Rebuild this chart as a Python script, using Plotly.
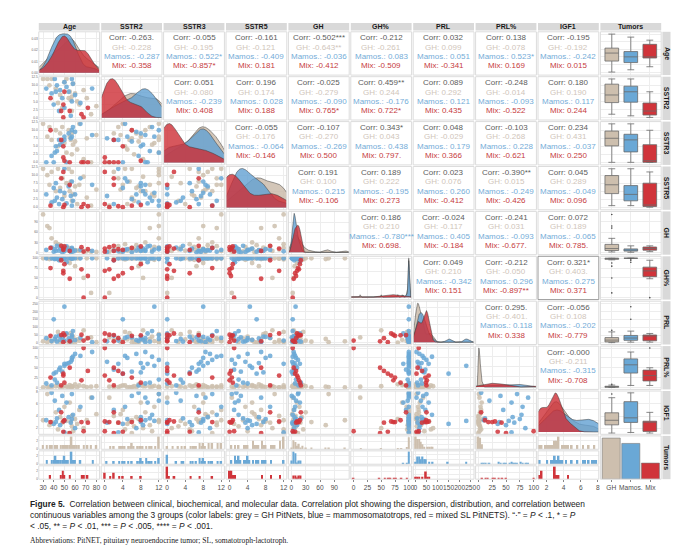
import numpy as np
import plotly.graph_objects as go

W, H = 680, 546

# ------------------------------------------------------------------ data
groups = ["GH", "Mamos.", "Mix"]
variables = ["Age", "SSTR2", "SSTR3", "SSTR5", "GH", "GH%", "PRL", "PRL%", "IGF1"]
strip_labels = variables + ["Tumors"]

age_gh = [30, 34, 36, 38, 42, 44, 46, 48, 50, 52, 54, 55, 56, 57, 57, 58, 60, 62, 64, 68, 71, 75, 80]
sstr2_gh = [12, 12, 10, 12, 9, 4.5, 7, 3, 11, 12, 6, 8, 5.5, 6.5, 2, 10.5, 7.5, 5, 4, 8.5, 6, 1, 3.5]
sstr3_gh = [12, 8, 11, 7, 10, 5, 9, 11, 6, 3, 10, 8, 7, 2.5, 9, 5.5, 6.5, 4, 12, 1, 7.5, 0, 8.5]
sstr5_gh = [12, 10, 7, 11, 5, 12, 6, 9, 3.5, 7.5, 12, 5, 8, 2, 11, 4, 6.5, 1, 7, 9.5, 3, 0.5, 5.5]
gh_gh = [112, 78, 72, 42, 30, 25, 22, 19, 17, 15, 14, 12, 11, 10, 9, 8, 7, 6, 5, 5, 4, 3, 2]
ghp_gh = [100, 100, 98, 100, 100, 97, 100, 100, 96, 100, 100, 88, 100, 100, 99, 100, 80, 100, 100, 50, 100, 12, 100]
prl_gh = [10, 5, 25, 8, 15, 70, 4, 30, 12, 55, 3, 20, 62, 6, 18, 40, 2, 22, 14, 80, 28, 35, 5]
prlp_gh = [0, 1, 2, 0, 3, 5, 0, 1, 4, 2, 0, 6, 1, 3, 0, 2, 8, 0, 5, 3, 1, 2, 3]
igf1_gh = [3.3, 7.6, 2.5, 3.0, 4.6, 1.8, 3.8, 2.9, 5.5, 3.2, 1.2, 6.2, 3.1, 2.3, 4.0, 1.5, 3.5, 2.7, 5.0, 2.0, 3.3, 7.0, 4.3]

age_mamos = [33, 38, 40, 41, 42, 43, 45, 46, 48, 50, 50, 52, 54, 56, 57, 57, 58, 60, 65, 76]
sstr2_mamos = [9, 7.5, 4, 12, 8, 10, 2, 8.5, 6, 11, 3, 9.5, 8, 0.5, 12, 5, 10.5, 7, 4.5, 9]
sstr3_mamos = [0, 2, 0, 3, 5, 3.5, 7, 5.5, 6.5, 8, 7, 0, 9, 7.5, 10, 8, 11, 9.5, 12, 8.5]
sstr5_mamos = [4, 1.5, 6, 2, 7.5, 3, 1, 5, 2.5, 4.5, 12, 1.2, 6.5, 3.5, 0.5, 8, 2, 4, 9, 7]
gh_mamos = [8, 15, 3, 10, 5, 20, 6, 12, 1, 9, 4, 18, 7, 2, 14, 10, 3, 6, 8, 5]
ghp_mamos = [100, 100, 100, 98, 100, 100, 95, 100, 100, 100, 100, 90, 100, 100, 100, 100, 100, 100, 100, 100]
prl_mamos = [30, 12, 150, 25, 40, 8, 45, 20, 35, 230, 15, 60, 28, 10, 50, 38, 75, 18, 32, 5]
prlp_mamos = [10, 5, 35, 20, 38, 12, 45, 50, 40, 55, 60, 60, 62, 65, 70, 75, 78, 85, 80, 90]
igf1_mamos = [3.3, 7.8, 2.7, 6.5, 3.0, 3.6, 5.0, 2.5, 7.3, 3.2, 1.3, 6.2, 3.8, 2.9, 7.6, 3.5, 4.2, 2.0, 5.5, 7.0]

age_mix = [37, 47, 49, 49, 50, 55, 66, 68, 72]
sstr2_mix = [6, 2, 4, 0, 8, 2, 1, 0, 3]
sstr3_mix = [10, 7, 5, 1.5, 0.5, 0, 0, 0, 0]
sstr5_mix = [0.5, 9, 0, 11, 0.7, 7, 0, 1, 0.3]
gh_mix = [14, 20, 8, 12, 18, 5, 16, 3, 10]
ghp_mix = [75, 95, 62, 68, 85, 48, 72, 0, 55]
prl_mix = [45, 50, 5, 60, 48, 10, 52, 15, 30]
prlp_mix = [25, 5, 35, 30, 12, 50, 18, 100, 42]
igf1_mix = [3.0, 4.6, 1.4, 3.1, 3.3, 1.2, 3.0, 1.5, 2.9]

# correlation labels (upper triangle, row-major)
corr_all = ["-0.263.", "-0.055", "-0.161", "-0.502***", "-0.212", "0.032", "0.138", "-0.195",
            "0.051", "0.196", "-0.025", "0.459**", "0.089", "-0.248", "0.180",
            "-0.055", "-0.107", "0.343*", "0.048", "-0.103", "0.234",
            "0.191", "0.189", "0.023", "-0.390**", "0.045",
            "0.186", "-0.024", "-0.241", "0.072",
            "0.049", "-0.212", "0.321*",
            "0.295.", "-0.056",
            "-0.000"]
corr_gh = ["-0.228", "-0.195", "-0.121", "-0.643**", "-0.261", "0.099", "-0.078", "-0.192",
           "-0.080", "0.174", "-0.279", "0.244", "0.292", "-0.014", "0.190",
           "-0.176", "-0.270", "0.043", "-0.029", "-0.268", "0.431",
           "0.100", "0.222", "0.076", "0.015", "0.289",
           "0.210", "-0.117", "0.031", "0.189",
           "0.210", "-0.050", "0.403.",
           "-0.401.", "0.108",
           "-0.211"]
corr_mamos = ["-0.287", "0.522*", "-0.409", "-0.036", "0.083", "0.051", "0.523*", "-0.242",
              "-0.239", "0.028", "-0.090", "-0.176", "0.121", "-0.093", "0.117",
              "-0.064", "-0.269", "0.438", "0.179", "0.228", "-0.037",
              "0.215", "-0.195", "0.260", "-0.249", "-0.049",
              "-0.780***", "0.405", "-0.093", "-0.065",
              "-0.342", "0.296", "0.275",
              "0.118", "-0.202",
              "-0.315"]
corr_mix = ["-0.358", "-0.857*", "0.181", "-0.412", "-0.509", "-0.341", "0.169", "0.015",
            "0.408", "0.188", "0.765*", "0.722*", "0.435", "-0.522", "0.244",
            "-0.146", "0.500", "0.797.", "0.366", "-0.621", "0.250",
            "-0.106", "0.273", "-0.412", "-0.426", "0.096",
            "0.698.", "-0.184", "-0.677.", "0.785.",
            "0.151", "-0.897**", "0.371",
            "0.338", "-0.779",
            "-0.708"]

age_ticks = [30, 40, 50, 60, 70, 80]
sstr_xticks = [0, 4, 8, 12]
sstr_yticks = [0, 2.5, 5, 7.5, 10, 12.5]
gh_ticks = [0, 30, 60, 90]
pct_ticks = [0, 25, 50, 75, 100]
prl_ticks = [0, 50, 100, 150, 200, 250]
igf1_ticks = [2, 4, 6, 8]
age_density_ticks = [0, 0.01, 0.02, 0.03, 0.04]

caption_lines = [
    "<b>Figure 5.</b>  Correlation between clinical, biochemical, and molecular data. Correlation plot showing the dispersion, distribution, and correlation between",
    "continuous variables among the 3 groups (color labels: grey = GH PitNets, blue = mammosomatotrops, red = mixed SL PitNETS). \u201c\u00b7\u201d = <i>P</i> < .1, * = <i>P</i>",
    "< .05, ** = <i>P</i> < .01, *** = <i>P</i> < .005, **** = <i>P</i> < .001.",
]
abbrev_line = "Abbreviations: PitNET, pituitary neuroendocrine tumor; SL, somatotroph-lactotroph."

# ------------------------------------------------------------------ assemble
values = {
    "Age": [age_gh, age_mamos, age_mix],
    "SSTR2": [sstr2_gh, sstr2_mamos, sstr2_mix],
    "SSTR3": [sstr3_gh, sstr3_mamos, sstr3_mix],
    "SSTR5": [sstr5_gh, sstr5_mamos, sstr5_mix],
    "GH": [gh_gh, gh_mamos, gh_mix],
    "GH%": [ghp_gh, ghp_mamos, ghp_mix],
    "PRL": [prl_gh, prl_mamos, prl_mix],
    "PRL%": [prlp_gh, prlp_mamos, prlp_mix],
    "IGF1": [igf1_gh, igf1_mamos, igf1_mix],
}
ranges = {"Age": [26, 83], "SSTR2": [-0.8, 12.7], "SSTR3": [-0.8, 12.7], "SSTR5": [-0.8, 12.7],
          "GH": [-6, 121], "GH%": [-5, 105], "PRL": [-10, 265], "PRL%": [-5, 105], "IGF1": [1.0, 8.1]}
xticks = {"Age": age_ticks, "SSTR2": sstr_xticks, "SSTR3": sstr_xticks, "SSTR5": sstr_xticks,
          "GH": gh_ticks, "GH%": pct_ticks, "PRL": prl_ticks, "PRL%": pct_ticks, "IGF1": igf1_ticks}
yticks = dict(xticks, SSTR2=sstr_yticks, SSTR3=sstr_yticks, SSTR5=sstr_yticks)
ytext = {k: [("%.1f" % v) if k.startswith("SSTR") else str(v) for v in yticks[k]] for k in yticks}

colors = ["#CDBFAE", "#6AA8D6", "#D0343A"]
fills = ["rgba(200,184,166,0.80)", "rgba(98,160,210,0.80)", "rgba(205,45,52,0.80)"]
txt_cols = ["#D0C5BA", "#74ACD8", "#C63C41"]
GRID = "#EDEDED"
FRAME = "#DCDCDC"
TICKF = dict(family="Liberation Sans, Arial, sans-serif", size=6.6, color="#4D4D4D")
SMALLF = dict(family="Liberation Sans, Arial, sans-serif", size=3.2, color="#666666")

X0, PX = 30.0, 62.4
Y0, PY = 23.0, 44.9
G = 1.6


def fx(x):
    return x / W


def fy(y):
    return 1 - y / H


def col_px(j):
    return X0 + j * PX + G / 2, X0 + (j + 1) * PX - G / 2


def row_px(i):
    return Y0 + i * PY + G / 2, Y0 + (i + 1) * PY - G / 2


fig = go.Figure()
axes = {}
shapes = []
annots = []
cnt = [0]


def add_axes(xpx, ypx, xa_extra, ya_extra):
    cnt[0] += 1
    s = "" if cnt[0] == 1 else str(cnt[0])
    base = dict(showgrid=True, gridcolor=GRID, gridwidth=0.6, zeroline=False, showline=False,
                ticks="", showticklabels=False, fixedrange=True, automargin=False, tickangle=0)
    xa = dict(base, domain=[fx(xpx[0]), fx(xpx[1])], anchor="y" + s)
    xa.update(xa_extra)
    ya = dict(base, domain=[fy(ypx[1]), fy(ypx[0])], anchor="x" + s)
    ya.update(ya_extra)
    axes["xaxis" + s] = xa
    axes["yaxis" + s] = ya
    shapes.append(dict(type="rect", xref="paper", yref="paper", x0=fx(xpx[0]), x1=fx(xpx[1]),
                       y0=fy(ypx[1]), y1=fy(ypx[0]), line=dict(color=FRAME, width=1), layer="above"))
    return "x" + s, "y" + s


def kde(vals, grid):
    v = np.asarray(vals, float)
    n = len(v)
    sd = v.std(ddof=1)
    q75, q25 = np.percentile(v, [75, 25])
    lo = min(sd, (q75 - q25) / 1.34) if (q75 - q25) > 0 else sd
    bw = 0.9 * lo * n ** -0.2
    d = np.exp(-0.5 * ((grid[:, None] - v[None, :]) / bw) ** 2).sum(1) / (n * bw * np.sqrt(2 * np.pi))
    return d


pair_idx = 0
for i, vi in enumerate(strip_labels):
    for j, vj in enumerate(strip_labels):
        xpx, ypx = col_px(j), row_px(i)
        if i < j and j < 9:
            # correlation text panel
            shapes.append(dict(type="rect", xref="paper", yref="paper", x0=fx(xpx[0]), x1=fx(xpx[1]),
                               y0=fy(ypx[1]), y1=fy(ypx[0]),
                               line=dict(color="#9A9A9A" if (i, j) == (5, 8) else FRAME, width=1),
                               fillcolor="white", layer="above"))
            lines = ["Corr: " + corr_all[pair_idx], "GH: " + corr_gh[pair_idx],
                     "Mamos.: " + corr_mamos[pair_idx], "Mix: " + corr_mix[pair_idx]]
            cols = ["#5C5C5C"] + txt_cols
            xc = (xpx[0] + xpx[1]) / 2
            for k, (t, c) in enumerate(zip(lines, cols)):
                annots.append(dict(x=fx(xc), y=fy(Y0 + i * PY + [6.7, 16.1, 25.5, 34.9][k]),
                                   xref="paper", yref="paper", text=t, showarrow=False,
                                   font=dict(family="Liberation Sans, Arial, sans-serif", size=8, color=c),
                                   xanchor="center", yanchor="middle"))
            pair_idx += 1
        elif i == j and i < 9:
            grid = np.linspace(ranges[vi][0], ranges[vi][1], 300)
            dens = [kde(values[vi][g], grid) for g in range(3)]
            top = max(d.max() for d in dens)
            ya = dict(range=[-0.06 * top, top * 1.05])
            if j == 0:
                ya.update(tickvals=age_density_ticks, ticktext=["%.2f" % t for t in age_density_ticks],
                          showticklabels=True, tickfont=SMALLF)
            xa_id, ya_id = add_axes(xpx, ypx, dict(range=ranges[vi], tickvals=xticks[vi]), ya)
            for g in range(3):
                fig.add_trace(go.Scatter(x=grid, y=dens[g], mode="lines", fill="tozeroy",
                                         fillcolor=fills[g], line=dict(color="#3A3A3A", width=0.5),
                                         xaxis=xa_id, yaxis=ya_id, hoverinfo="skip"))
        elif i > j and i < 9:
            ya = dict(range=ranges[vi], tickvals=yticks[vi])
            if j == 0:
                ya.update(ticktext=ytext[vi], showticklabels=True, tickfont=SMALLF)
            xa_id, ya_id = add_axes(xpx, ypx, dict(range=ranges[vj], tickvals=xticks[vj]), ya)
            for g in range(3):
                fig.add_trace(go.Scatter(x=values[vj][g], y=values[vi][g], mode="markers",
                                         marker=dict(size=4.8, color=colors[g], opacity=0.85),
                                         xaxis=xa_id, yaxis=ya_id, hoverinfo="skip"))
        elif j == 9 and i < 9:
            xa_id, ya_id = add_axes(xpx, ypx,
                                    dict(type="category", categoryorder="array", categoryarray=groups,
                                         range=[-0.6, 2.6]),
                                    dict(range=ranges[vi], tickvals=yticks[vi]))
            for g in range(3):
                fig.add_trace(go.Box(x=[groups[g]] * len(values[vi][g]), y=values[vi][g],
                                     fillcolor=colors[g], line=dict(color="#6A6A6A", width=0.8),
                                     marker=dict(color="#444444", size=1.6), width=0.72,
                                     boxpoints="outliers", xaxis=xa_id, yaxis=ya_id, hoverinfo="skip"))
        elif i == 9 and j < 9:
            # faceted histograms
            y_top = Y0 + 9 * PY + G / 2
            y_bot = Y0 + 10 * PY - G / 2
            hgt = (y_bot - y_top - 2 * 1.6) / 3
            allv = np.concatenate([np.asarray(values[vj][g], float) for g in range(3)])
            size = (allv.max() - allv.min()) / 30
            first = None
            for g in range(3):
                ypx_g = (y_top + g * (hgt + 1.6), y_top + g * (hgt + 1.6) + hgt)
                xa = dict(range=ranges[vj], tickvals=xticks[vj])
                if g == 2:
                    xa.update(showticklabels=True, tickfont=TICKF, ticks="outside", ticklen=2,
                              tickcolor="#888888")
                ya = dict(nticks=3)
                if first is not None:
                    ya["matches"] = first
                if j == 0:
                    ya.update(showticklabels=True, tickfont=dict(SMALLF, size=3))
                xa_id, ya_id = add_axes(xpx, ypx_g, xa, ya)
                if first is None:
                    first = ya_id
                fig.add_trace(go.Histogram(x=values[vj][g], xbins=dict(start=allv.min() - size / 2, size=size),
                                           marker=dict(color=colors[g], line=dict(width=0)),
                                           xaxis=xa_id, yaxis=ya_id, hoverinfo="skip"))
        else:
            xa_id, ya_id = add_axes(xpx, ypx,
                                    dict(type="category", categoryorder="array", categoryarray=groups,
                                         range=[-0.55, 2.55], showticklabels=True, tickfont=TICKF,
                                         ticks="outside", ticklen=2, tickcolor="#888888", showgrid=False),
                                    dict(showgrid=False, rangemode="tozero"))
            for g in range(3):
                fig.add_trace(go.Histogram(x=[groups[g]] * len(values["Age"][g]),
                                           marker=dict(color=colors[g], line=dict(color="#777777", width=0.6)),
                                           xaxis=xa_id, yaxis=ya_id, hoverinfo="skip"))

# strips
for j, lab in enumerate(strip_labels):
    xpx = col_px(j)
    shapes.append(dict(type="rect", xref="paper", yref="paper", x0=fx(xpx[0]), x1=fx(xpx[1]),
                       y0=fy(22.6), y1=fy(15), fillcolor="#D9D9D9", line=dict(width=0), layer="above"))
    annots.append(dict(x=fx((xpx[0] + xpx[1]) / 2), y=fy(18.8), xref="paper", yref="paper", text="<b>%s</b>" % lab,
                       showarrow=False, font=dict(family="Liberation Sans, Arial, sans-serif", size=7, color="#1A1A1A"),
                       xanchor="center", yanchor="middle"))
for i, lab in enumerate(strip_labels):
    ypx = row_px(i)
    shapes.append(dict(type="rect", xref="paper", yref="paper", x0=fx(654.4), x1=fx(662.5),
                       y0=fy(ypx[1]), y1=fy(ypx[0]), fillcolor="#D9D9D9", line=dict(width=0), layer="above"))
    annots.append(dict(x=fx(658.5), y=fy((ypx[0] + ypx[1]) / 2), xref="paper", yref="paper", text="<b>%s</b>" % lab,
                       showarrow=False, textangle=90,
                       font=dict(family="Liberation Sans, Arial, sans-serif", size=7, color="#1A1A1A"),
                       xanchor="center", yanchor="middle"))

# caption
for k, line in enumerate(caption_lines):
    annots.append(dict(x=fx(20), y=fy(496 + 11 * k), xref="paper", yref="paper", text=line, showarrow=False,
                       font=dict(family="Liberation Sans, Arial, sans-serif", size=8.4, color="#222222"),
                       xanchor="left", yanchor="middle"))
annots.append(dict(x=fx(20), y=fy(532), xref="paper", yref="paper", text=abbrev_line, showarrow=False,
                   font=dict(family="Liberation Serif, Times New Roman, serif", size=7.6, color="#222222"),
                   xanchor="left", yanchor="middle"))

fig.update_layout(**axes)
fig.update_layout(width=W, height=H, margin=dict(l=0, r=0, t=0, b=0), template="none",
                  paper_bgcolor="white", plot_bgcolor="white", showlegend=False,
                  barmode="overlay", boxmode="overlay", bargap=0.08,
                  shapes=shapes, annotations=annots)
fig.write_html("out.html")
